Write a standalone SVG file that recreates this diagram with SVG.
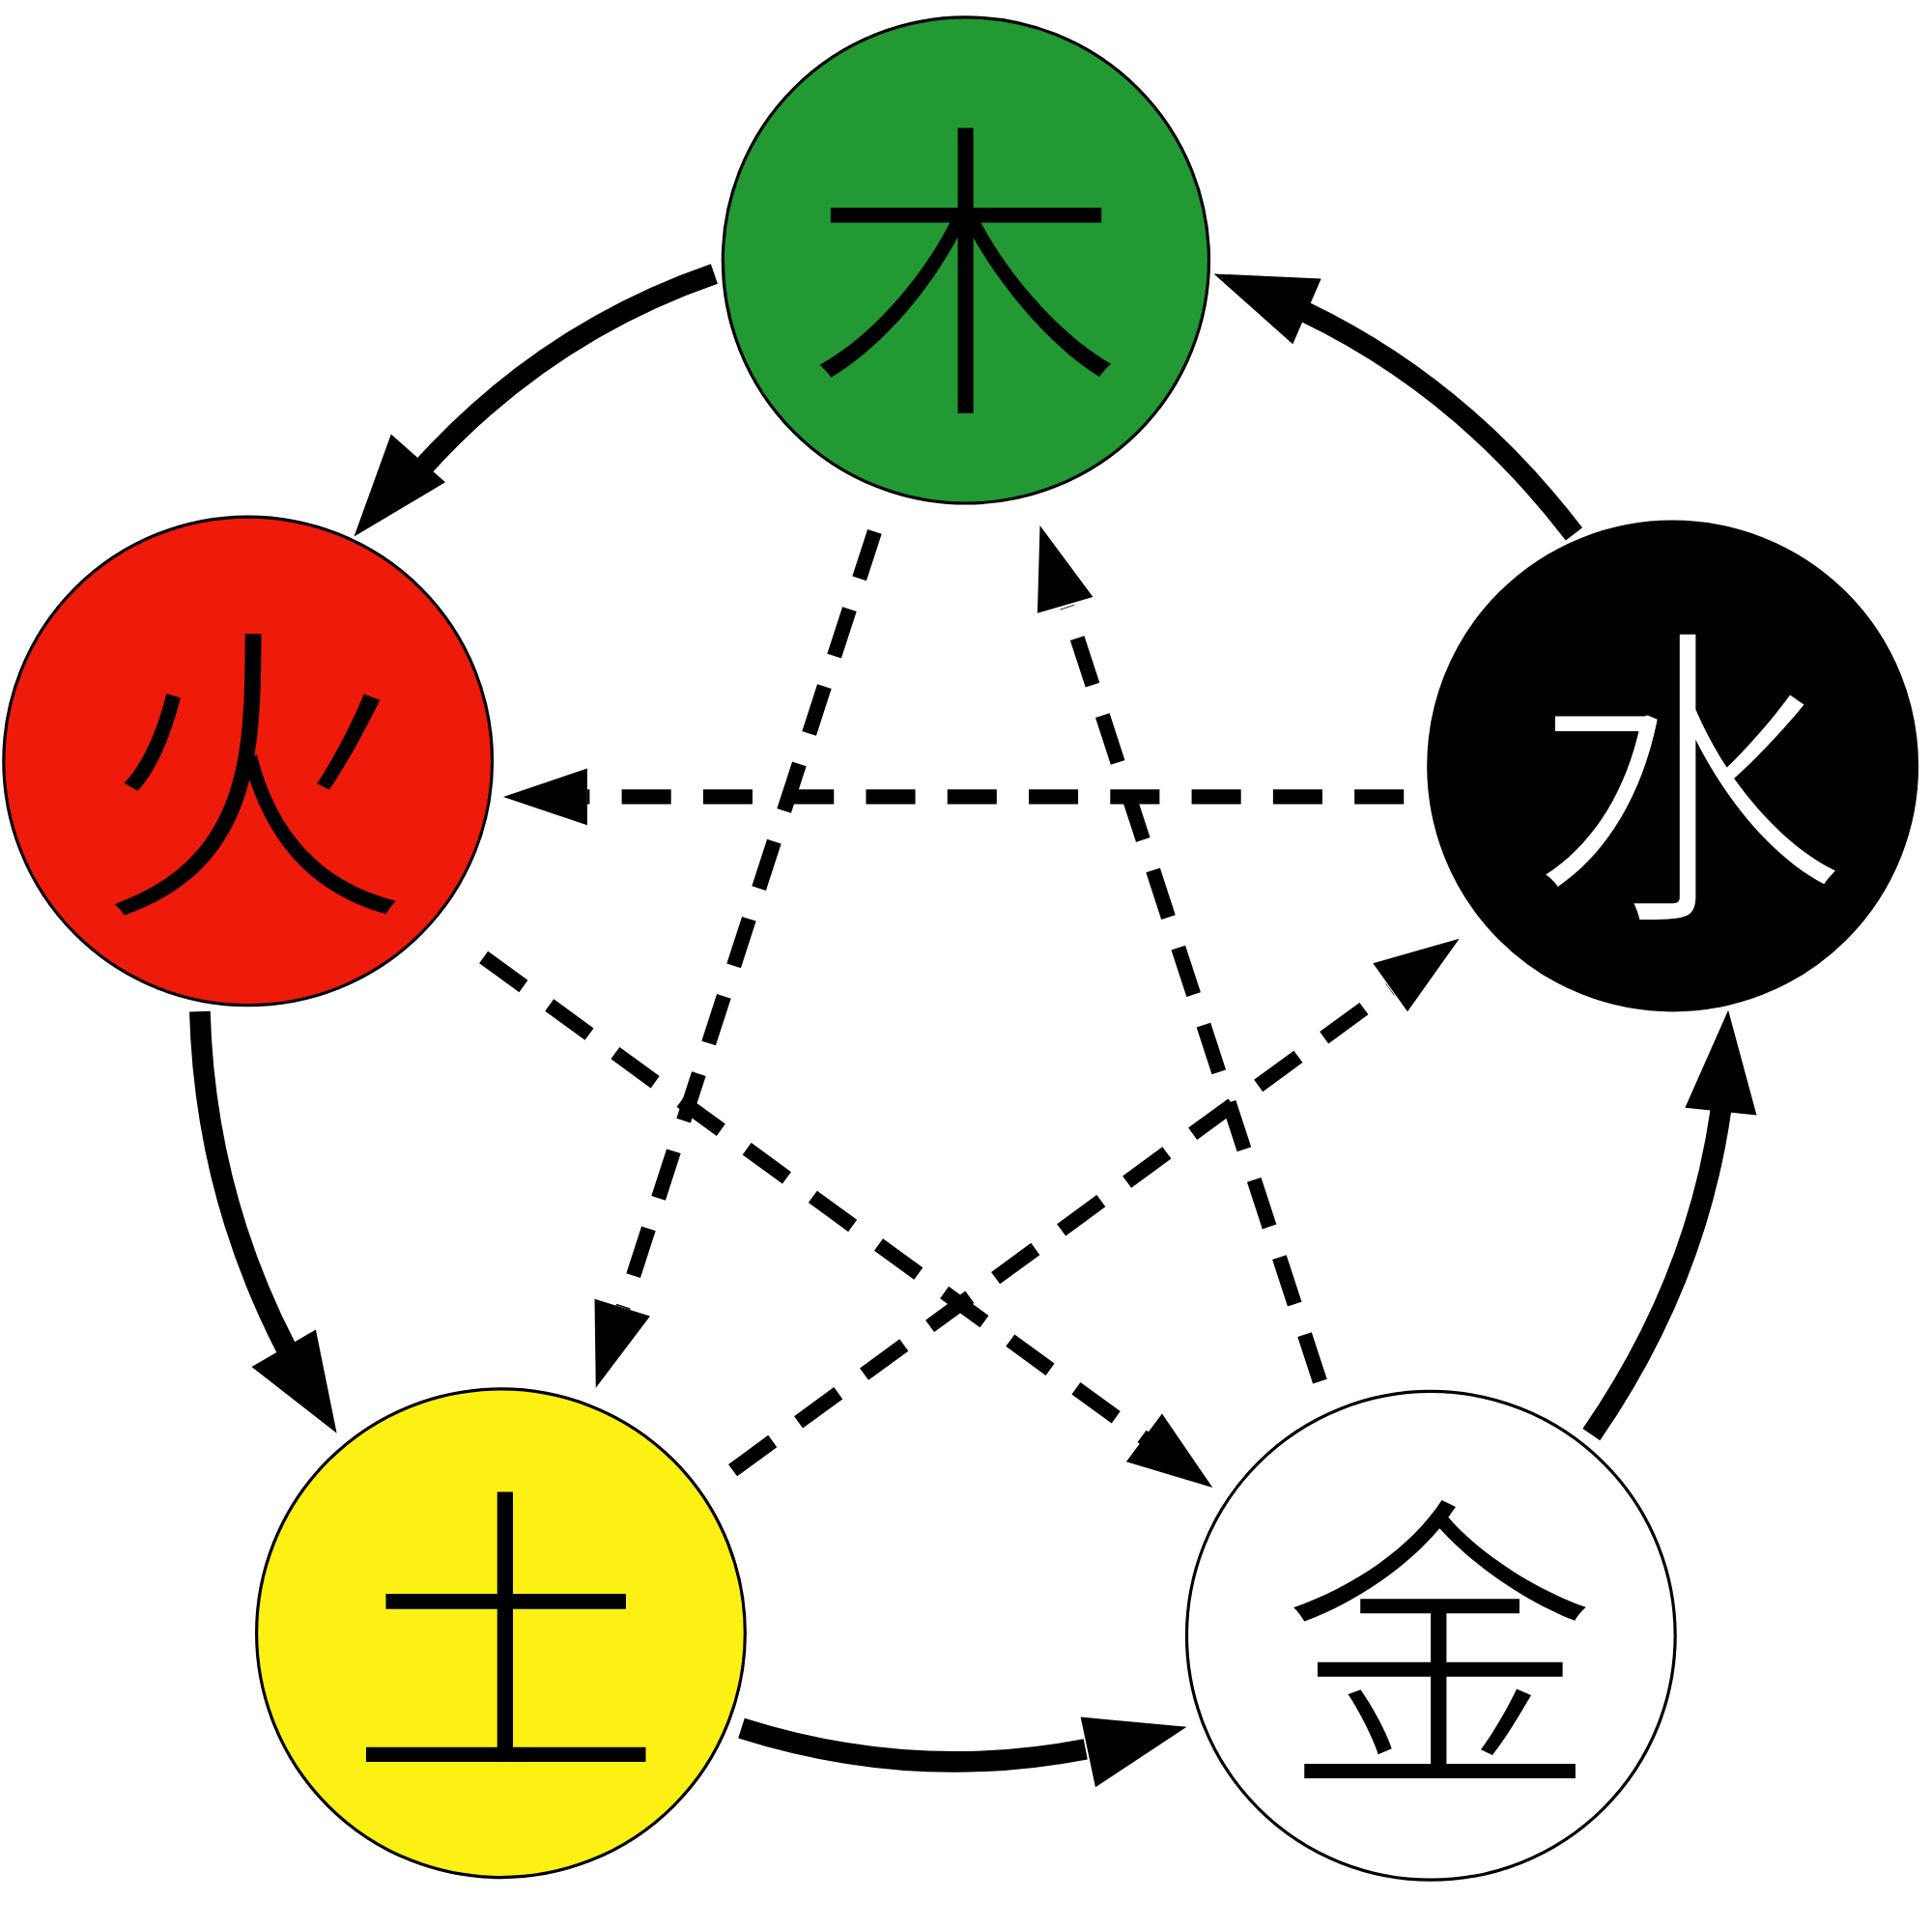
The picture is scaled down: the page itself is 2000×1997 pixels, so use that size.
<svg xmlns="http://www.w3.org/2000/svg" width="2000" height="1997" viewBox="0 0 2000 1997">
<style>
.n{stroke:#000;stroke-width:2.5}
.t{font-family:"Noto Sans CJK SC","Noto Sans CJK TC",sans-serif;font-size:255px;font-weight:300;text-anchor:middle;dominant-baseline:central}
.s{fill:none;stroke:#000;stroke-width:17}
.d{fill:none;stroke:#000;stroke-width:12;stroke-dasharray:40 26}
</style>
<rect width="2000" height="1997" fill="#fff"/>
<g transform="scale(1.277)">
<g id="wood"><circle class="n" cx="783" cy="211" r="197" fill="#229933"/><text class="t" x="783" y="205">木</text></g>
<g id="fire"><circle class="n" cx="201" cy="617" r="198" fill="#ee1a0a"/><text class="t" x="205" y="612">火</text></g>
<g id="water"><circle class="n" cx="1356" cy="621" r="198" fill="#000"/><text class="t" x="1368" y="615" fill="#fff">水</text></g>
<g id="earth"><circle class="n" cx="406" cy="1324" r="198" fill="#fdf013"/><text class="t" x="410" y="1310">土</text></g>
<g id="metal"><circle class="n" cx="1160" cy="1326" r="198" fill="#fff"/><text class="t" x="1167" y="1320">金</text></g>
<g id="connectors">
<path class="s" d="M579,222 Q440,270 340,382"/><polygon points="317,352 361,391 287,435"/>
<path class="s" d="M162,820 Q166,965 232,1093"/><polygon points="204,1108 256,1078 273,1162"/>
<path class="s" d="M601,1401 Q740,1445 880,1418"/><polygon points="876,1392 962,1400 888,1449"/>
<path class="s" d="M1290,1163 Q1375,1040 1395,900"/><polygon points="1366,898 1401,819 1424,904"/>
<path class="s" d="M1276,433 Q1185,314 1058,253"/><polygon points="1048,279 984,222 1071,226"/>
<path class="d" d="M1138,646 L476,646"/><polygon points="476,623 408,646 476,669"/>
<path class="d" d="M709,431 L505,1060"/><polygon points="527,1067 483,1125 482,1053"/>
<path class="d" d="M594,1192 L1127,802"/><polygon points="1113,781 1183,761 1141,820"/>
<path class="d" d="M1070,1120 L865,492"/><polygon points="841,497 843,426 886,484"/>
<path class="d" d="M392,776 L928,1166"/><polygon points="942,1146 983,1206 913,1185"/>
</g>
</g>
</svg>
